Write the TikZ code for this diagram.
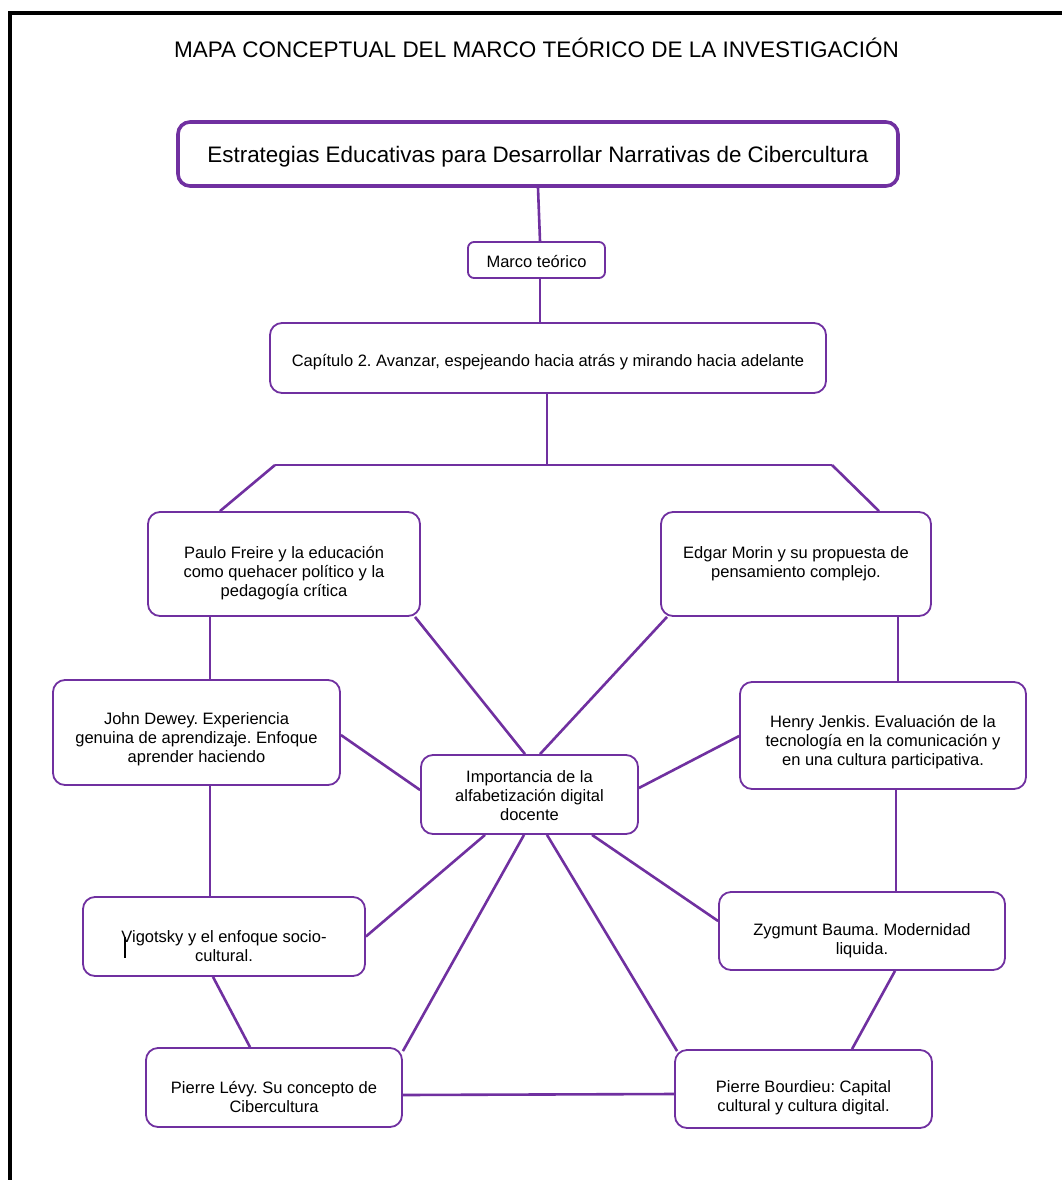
\documentclass[tikz,border=0pt]{standalone}
\usepackage{fontspec}
\setmainfont{Liberation Sans}
\frenchspacing
\definecolor{mapviolet}{HTML}{7030A0}
\begin{document}
\begin{tikzpicture}[x=1pt,y=-1pt,
  box/.style={draw=mapviolet, line width=1.8pt, rounded corners=12pt, fill=white, inner sep=0pt},
  headbox/.style={box, line width=3.6pt},
  smallbox/.style={box, rounded corners=6pt},
  txt/.style={align=center, inner sep=0pt, font=\fontsize{16.5}{19}\selectfont},
  link/.style={draw=mapviolet, line width=2.6pt},
]
\useasboundingbox (0,0) rectangle (1062,1180);
\fill[white] (0,0) rectangle (1062,1180);
% page frame (left and top edges)
\draw[line width=4pt, line cap=rect] (10,1182) -- (10,13) -- (1064,13);

% title
\node[inner sep=0pt, font=\fontsize{22.5}{26}\selectfont] (title) at (536.5,47.5)
  {MAPA CONCEPTUAL DEL MARCO TEÓRICO DE LA INVESTIGACIÓN};

% boxes
\node[headbox, minimum width=720pt, minimum height=64pt] (main) at (538,154) {};
\node[smallbox, minimum width=137pt, minimum height=36pt] (marco) at (536.5,260) {};
\node[box, minimum width=556pt, minimum height=70pt] (cap) at (548,358) {};
\node[box, minimum width=272pt, minimum height=104pt] (paulo) at (284,564) {};
\node[box, minimum width=270pt, minimum height=104pt] (edgar) at (796,564) {};
\node[box, minimum width=287pt, minimum height=105pt] (dewey) at (196.5,732.5) {};
\node[box, minimum width=286pt, minimum height=107pt] (jenkis) at (883,735.5) {};
\node[box, minimum width=217pt, minimum height=79pt] (imp) at (529.5,794.5) {};
\node[box, minimum width=282pt, minimum height=79pt] (vig) at (224,936.5) {};
\node[box, minimum width=286pt, minimum height=78pt] (zyg) at (862,931) {};
\node[box, minimum width=256pt, minimum height=79pt] (levy) at (274,1087.5) {};
\node[box, minimum width=257pt, minimum height=78pt] (bour) at (803.5,1089) {};

% box texts
\node[txt, font=\fontsize{22.4}{26}\selectfont] (maint) at ([yshift=-3pt]main.center)
  {Estrategias Educativas para Desarrollar Narrativas de Cibercultura};
\node[txt] (marcot) at ([yshift=-2pt]marco.center) {Marco teórico};
\node[txt] (capt) at ([yshift=-4.5pt]cap.center)
  {Capítulo 2. Avanzar, espejeando hacia atrás y mirando hacia adelante};
\node[txt] (paulot) at ([yshift=-9pt]paulo.center)
  {Paulo Freire y la educación\\como quehacer político y la\\pedagogía crítica};
\node[txt] (edgart) at ([yshift=0pt]edgar.center)
  {Edgar Morin y su propuesta de\\pensamiento complejo.};
\node[txt] (deweyt) at ([yshift=-6.5pt]dewey.center)
  {John Dewey. Experiencia\\genuina de aprendizaje. Enfoque\\aprender haciendo};
\node[txt] (jenkist) at ([yshift=-6.5pt]jenkis.center)
  {Henry Jenkis. Evaluación de la\\tecnología en la comunicación y\\en una cultura participativa.};
\node[txt] (impt) at ([yshift=-1pt]imp.center)
  {Importancia de la\\alfabetización digital\\docente};
\node[txt] (vigt) at ([yshift=-10pt]vig.center)
  {Vigotsky y el enfoque socio-\\cultural.};
\node[txt] (zygt) at ([yshift=-10pt]zyg.center)
  {Zygmunt Bauma. Modernidad\\liquida.};
\node[txt] (levyt) at ([yshift=-9pt]levy.center)
  {Pierre Lévy. Su concepto de\\Cibercultura};
\node[txt] (bourt) at ([yshift=-9pt]bour.center)
  {Pierre Bourdieu: Capital\\cultural y cultura digital.};

% text cursor left in the Vigotsky box
\draw[line width=1.2pt] (125,937) -- (125,958);

% branching points under the chapter box
\coordinate (hub) at (547,465);
\coordinate (hl) at (275,465);
\coordinate (hr) at (832,465);

% connectors
\path[link] (main.south) -- ([xshift=3.5pt]marco.north);
\path[link] ([xshift=3.5pt]marco.south) -- ([xshift=-8pt]cap.north);
\path[link] ([xshift=-1pt]cap.south) -- (hub);
\path[link] (hl) -- (hr);
\path[link] (hl) -- ([xshift=-64pt]paulo.north);
\path[link] (hr) -- ([xshift=83pt]edgar.north);
\path[link] ([xshift=-74pt]paulo.south) -- ([xshift=13.5pt]dewey.north);
\path[link] ([xshift=131pt]paulo.south) -- ([xshift=-4.5pt]imp.north);
\path[link] ([xshift=-129pt]edgar.south) -- ([xshift=10.5pt]imp.north);
\path[link] ([xshift=102pt]edgar.south) -- ([xshift=15pt]jenkis.north);
\path[link] ([yshift=-2.5pt]dewey.east) -- ([yshift=4.5pt]imp.west);
\path[link] ([yshift=-0.5pt]jenkis.west) -- ([yshift=6.5pt]imp.east);
\path[link] ([xshift=13.5pt]dewey.south) -- ([xshift=-14pt]vig.north);
\path[link] ([xshift=13pt]jenkis.south) -- ([xshift=34pt]zyg.north);
\path[link] ([xshift=-44.5pt]imp.south) -- (vig.east);
\path[link] ([xshift=-5.5pt]imp.south) -- ([yshift=-4pt]levy.north east);
\path[link] ([xshift=17.5pt]imp.south) -- ([xshift=3pt,yshift=-2pt]bour.north west);
\path[link] ([xshift=62.5pt]imp.south) -- ([yshift=10pt]zyg.west);
\path[link] ([xshift=-11pt]vig.south) -- ([xshift=-24pt]levy.north);
\path[link] ([xshift=33pt]zyg.south) -- ([xshift=48.5pt]bour.north);
\path[link] ([yshift=-7.5pt]levy.east) -- ([yshift=-5pt]bour.west);
\end{tikzpicture}
\end{document}
